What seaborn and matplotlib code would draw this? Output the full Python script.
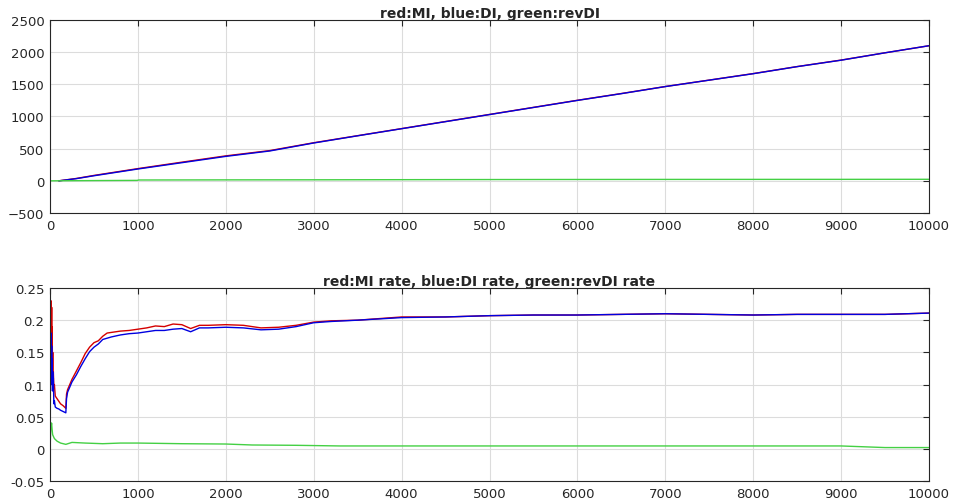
import matplotlib
matplotlib.use("Agg")
import matplotlib.pyplot as plt
import seaborn as sns

# --- top panel: cumulative counts ---
count_x = [100, 300, 500, 1000, 1500, 2000, 2500, 3000, 3500, 4000, 4500, 5000,
           5500, 6000, 6500, 7000, 7500, 8000, 8500, 9000, 9500, 10000]
count_mi = [0, 37, 84, 190, 290, 388, 470, 592, 702, 812, 922, 1032,
            1142, 1252, 1357, 1466, 1566, 1667, 1776, 1877, 1990, 2100]
count_di = [0, 34, 79, 184, 282, 380, 464, 588, 700, 810, 920, 1030,
            1140, 1250, 1355, 1465, 1565, 1665, 1775, 1875, 1990, 2100]
count_rev_x = [0, 500, 990, 1010, 2000, 3000, 5000, 7000, 9000, 10000]
count_rev = [0, 4, 7, 13, 15, 16, 20, 22, 23, 24]

# --- bottom panel: rates ---
rate_x = [10, 13, 16, 19, 22, 25, 28, 31, 34, 38, 44, 50, 60, 80, 100, 120, 150, 180,
          188, 200, 250, 300, 350, 400, 450, 500, 550, 600, 650, 700, 800, 900,
          1000, 1100, 1200, 1300, 1400, 1500, 1600, 1700, 1800, 2000, 2200, 2400,
          2600, 2800, 3000, 3200, 3500, 4000, 4500, 5000, 5500, 6000, 6500, 7000,
          7500, 8000, 8500, 9000, 9500, 10000]
rate_mi = [0.18, 0.23, 0.16, 0.22, 0.14, 0.19, 0.12, 0.15, 0.10, 0.12, 0.095, 0.10,
           0.082, 0.078, 0.074, 0.070, 0.067, 0.063, 0.085, 0.092, 0.108, 0.121,
           0.134, 0.148, 0.158, 0.165, 0.168, 0.175, 0.180, 0.181, 0.183, 0.184,
           0.186, 0.188, 0.191, 0.190, 0.194, 0.193, 0.187, 0.192, 0.192, 0.193,
           0.192, 0.188, 0.189, 0.192, 0.197, 0.199, 0.200, 0.205, 0.205, 0.207,
           0.208, 0.208, 0.209, 0.210, 0.209, 0.208, 0.209, 0.209, 0.209, 0.211]
rate_di = [0.10, 0.18, 0.12, 0.16, 0.10, 0.14, 0.09, 0.12, 0.095, 0.11, 0.07, 0.075,
           0.065, 0.063, 0.062, 0.060, 0.058, 0.056, 0.078, 0.088, 0.104, 0.115,
           0.128, 0.140, 0.151, 0.158, 0.163, 0.170, 0.172, 0.174, 0.177, 0.179,
           0.180, 0.182, 0.184, 0.184, 0.186, 0.187, 0.182, 0.188, 0.188, 0.189,
           0.188, 0.185, 0.186, 0.190, 0.196, 0.198, 0.200, 0.204, 0.205, 0.207,
           0.208, 0.208, 0.209, 0.210, 0.209, 0.208, 0.209, 0.209, 0.209, 0.211]
rate_rev_x = [1, 10, 14, 18, 24, 30, 50, 80, 120, 180, 250, 400, 600, 800, 1000,
              1500, 2000, 2300, 2800, 3300, 4000, 5000, 6000, 7000, 8000, 9000,
              9300, 9500, 10000]
rate_rev = [0.0, 0.04, 0.035, 0.04, 0.03, 0.022, 0.016, 0.012, 0.009, 0.007, 0.010,
            0.009, 0.008, 0.009, 0.009, 0.008, 0.0075, 0.006, 0.0055, 0.0045, 0.0045,
            0.0045, 0.0045, 0.0045, 0.0045, 0.0045, 0.003, 0.002, 0.002]

sns.set_style("whitegrid")
plt.rcParams["font.family"] = ["DejaVu Sans"]

fig = plt.figure(figsize=(9.56, 5.02), dpi=100)
ax1 = fig.add_axes([0.0523, 0.5737, 0.9195, 0.3845])
ax2 = fig.add_axes([0.0523, 0.0398, 0.9195, 0.3845])

red, blue, green = "#d40000", "#0000e0", "#44d044"

sns.lineplot(x=count_x, y=count_mi, color=red, lw=1, estimator=None, sort=False, ax=ax1)
sns.lineplot(x=count_x, y=count_di, color=blue, lw=1, estimator=None, sort=False, ax=ax1)
sns.lineplot(x=count_rev_x, y=count_rev, color=green, lw=1, estimator=None, sort=False, ax=ax1)

sns.lineplot(x=rate_x, y=rate_mi, color=red, lw=1, estimator=None, sort=False, ax=ax2)
sns.lineplot(x=rate_x, y=rate_di, color=blue, lw=1, estimator=None, sort=False, ax=ax2)
sns.lineplot(x=rate_rev_x, y=rate_rev, color=green, lw=1, estimator=None, sort=False, ax=ax2)

ax1.set_ylim(-500, 2500)
ax1.set_yticks(range(-500, 2501, 500))
ax2.set_ylim(-0.05, 0.25)
ax2.set_yticks([-0.05, 0, 0.05, 0.1, 0.15, 0.2, 0.25])
ax2.set_yticklabels(["-0.05", "0", "0.05", "0.1", "0.15", "0.2", "0.25"])

ax1.set_title("red:MI, blue:DI, green:revDI", fontsize=10, fontweight="bold", pad=2)
ax2.set_title("red:MI rate, blue:DI rate, green:revDI rate", fontsize=10, fontweight="bold", pad=2)

for ax in (ax1, ax2):
    ax.set_xlim(0, 10000)
    ax.set_xticks(range(0, 10001, 1000))
    ax.grid(True, color="#dcdcdc", lw=0.8)
    ax.tick_params(direction="in", length=4, width=0.8, top=True, right=True,
                   labelsize=9.5, colors="#262626", pad=4)
    for s in ax.spines.values():
        s.set_color("#262626")
        s.set_linewidth(0.8)

fig.savefig("out.png", dpi=100)
